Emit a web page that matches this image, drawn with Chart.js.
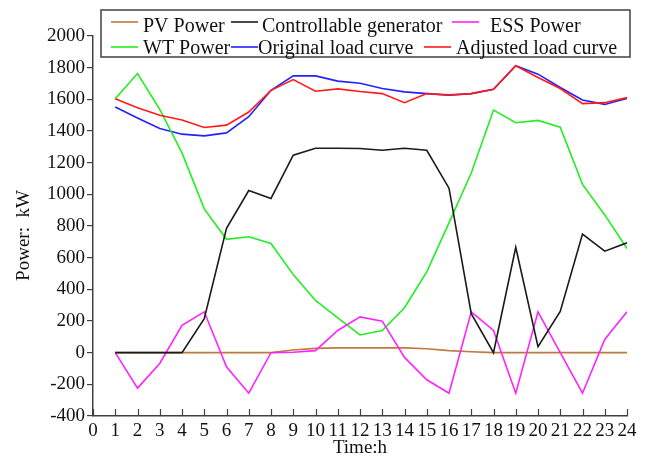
<!DOCTYPE html>
<html lang="en">
<head>
    <meta charset="UTF-8">
    <title>Microgrid Power Dispatch</title>
    <script src="https://cdn.jsdelivr.net/npm/chart.js"></script>
    <style>
        html, body { margin: 0; padding: 0; background: #fff; }
        #wrap { width: 652px; height: 458px; position: relative; }
    </style>
</head>
<body>
    <div id="wrap"><canvas id="powerChart" width="652" height="458"></canvas></div>

    <script>
        // hourly values, kW
        const hours = [1, 2, 3, 4, 5, 6, 7, 8, 9, 10, 11, 12, 13, 14, 15, 16, 17, 18, 19, 20, 21, 22, 23, 24];
        const pvPower = [0, 0, 0, 0, 0, 0, 0, 0, 17, 27, 30, 30, 30, 30, 25, 13, 6, 0, 0, 0, 0, 0, 0, 0];
        const controllableGen = [0, 0, 0, 0, 214, 785, 1024, 974, 1247, 1291, 1291, 1289, 1278, 1291, 1278, 1039, 246, 0, 665, 38, 260, 749, 641, 694];
        const essPower = [0, -224, -68, 173, 258, -89, -256, 0, 3, 13, 140, 226, 199, -30, -171, -256, 258, 140, -256, 258, 0, -256, 83, 258];
        const wtPower = [1604, 1763, 1537, 1262, 908, 716, 732, 690, 493, 330, 220, 112, 140, 284, 510, 820, 1135, 1532, 1452, 1467, 1424, 1063, 870, 658];
        const originalLoad = [1551, 1482, 1416, 1380, 1369, 1388, 1490, 1657, 1748, 1748, 1715, 1702, 1668, 1647, 1636, 1626, 1636, 1664, 1812, 1759, 1675, 1596, 1568, 1605];
        const adjustedLoad = [1604, 1547, 1499, 1469, 1422, 1437, 1520, 1657, 1725, 1651, 1666, 1649, 1636, 1579, 1636, 1628, 1636, 1664, 1812, 1738, 1668, 1573, 1579, 1611];

        const FONT = "'Liberation Serif', 'Times New Roman', serif";
        const AXIS = '#404040';

        const toPoints = arr => arr.map((v, i) => ({ x: hours[i], y: v }));

        // legend layout: [dataset index, line start x, text x, line y, text baseline]
        const legendSlots = [
            [5, 111, 143, 22, 31.5], [1, 231, 262, 22, 31.5], [2, 452, 490, 22, 31.5],
            [3, 111, 143, 47, 54], [4, 231, 258, 47, 54], [0, 424, 456, 47, 54]
        ];

        const series = [
            { label: 'Adjusted load curve', data: adjustedLoad, color: '#ff1a1a' },
            { label: 'Controllable generator', data: controllableGen, color: '#1a1a1a' },
            { label: 'ESS Power', data: essPower, color: '#ff22ff' },
            { label: 'WT Power', data: wtPower, color: '#22ee22' },
            { label: 'Original load curve', data: originalLoad, color: '#2222ff' },
            { label: 'PV Power', data: pvPower, color: '#c0783c' }
        ];

        // inward ticks on the time axis and the boxed legend
        const decorations = {
            id: 'decorations',
            afterDraw(chart) {
                const ctx = chart.ctx;
                const xs = chart.scales.x;
                const bottom = chart.chartArea.bottom;
                ctx.save();
                ctx.strokeStyle = AXIS;
                ctx.lineWidth = 1.2;
                for (let h = 0; h <= 24; h++) {
                    const px = Math.round(xs.getPixelForValue(h)) + 0.5;
                    ctx.beginPath();
                    ctx.moveTo(px, bottom);
                    ctx.lineTo(px, bottom - 7);
                    ctx.stroke();
                }

                ctx.fillStyle = '#fff';
                ctx.fillRect(101, 10, 529, 47);
                ctx.strokeStyle = AXIS;
                ctx.lineWidth = 1.5;
                ctx.strokeRect(101, 10, 529, 47);

                ctx.font = '20px ' + FONT;
                ctx.textBaseline = 'alphabetic';
                legendSlots.forEach(([idx, lx, tx, ly, ty]) => {
                    const ds = chart.data.datasets[idx];
                    ctx.strokeStyle = ds.borderColor;
                    ctx.lineWidth = 1.6;
                    ctx.beginPath();
                    ctx.moveTo(lx, ly);
                    ctx.lineTo(lx + 27, ly);
                    ctx.stroke();
                    ctx.fillStyle = '#111';
                    ctx.fillText(ds.label, tx, ty);
                });
                ctx.restore();
            }
        };

        new Chart(document.getElementById('powerChart').getContext('2d'), {
            type: 'line',
            data: {
                datasets: series.map(s => ({
                    label: s.label,
                    data: toPoints(s.data),
                    borderColor: s.color,
                    backgroundColor: s.color,
                    borderWidth: 1.6,
                    pointRadius: 0,
                    tension: 0,
                    fill: false
                }))
            },
            options: {
                responsive: false,
                animation: false,
                layout: { padding: { top: 36, right: 25, bottom: 0, left: 0 } },
                plugins: {
                    legend: { display: false },
                    tooltip: { enabled: false }
                },
                scales: {
                    x: {
                        type: 'linear',
                        min: 0,
                        max: 24,
                        afterFit: s => { s.height = 42; },
                        border: { display: true, color: AXIS, width: 1.5 },
                        grid: { drawOnChartArea: false, drawTicks: false },
                        ticks: {
                            stepSize: 1,
                            autoSkip: false,
                            maxRotation: 0,
                            padding: 4,
                            color: '#111',
                            font: { family: FONT, size: 19 },
                            callback: v => String(v)
                        },
                        title: {
                            display: true,
                            text: 'Time:h',
                            color: '#111',
                            padding: 0,
                            font: { family: FONT, size: 19, lineHeight: 1 }
                        }
                    },
                    y: {
                        min: -400,
                        max: 2000,
                        afterFit: s => { s.width = 93; },
                        border: { display: true, color: AXIS, width: 1.5 },
                        grid: { drawOnChartArea: false, drawTicks: true, tickLength: 6, color: AXIS, lineWidth: 1.2 },
                        ticks: {
                            stepSize: 200,
                            padding: 2,
                            color: '#111',
                            font: { family: FONT, size: 19 },
                            callback: v => String(v)
                        },
                        title: {
                            display: true,
                            text: 'Power:  kW    ',
                            color: '#111',
                            padding: { top: 15 },
                            font: { family: FONT, size: 19, lineHeight: 1 }
                        }
                    }
                }
            },
            plugins: [decorations]
        });
    </script>
</body>
</html>
